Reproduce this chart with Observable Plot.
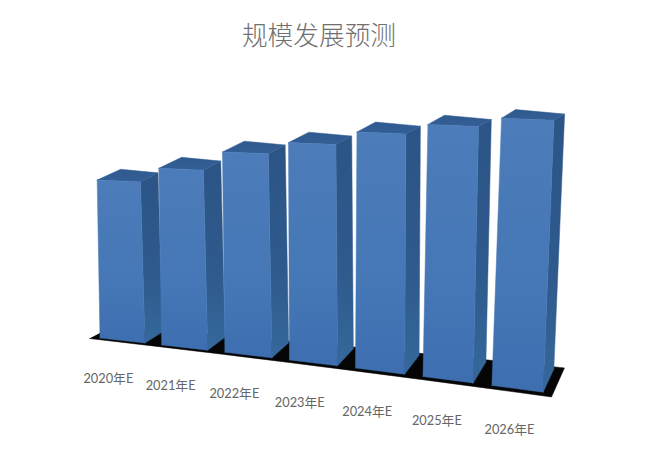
<!DOCTYPE html>
<html lang="zh">
<head>
<meta charset="utf-8">
<script src="https://cdn.jsdelivr.net/npm/d3@7"></script>
<script src="https://cdn.jsdelivr.net/npm/@observablehq/plot@0.6"></script>
<style>
html,body{margin:0;padding:0;background:#fff;width:652px;height:459px;overflow:hidden}
#title{height:56px;text-align:center;font:300 25.7px/67px "Noto Sans CJK SC",sans-serif;color:#707070;padding-right:14px;box-sizing:border-box}
svg{display:block}
</style>
</head>
<body>
<div id="title"></div>
<div id="chart"></div>
<script>
const chartTitle = "规模发展预测";
const categories = ["2020年E","2021年E","2022年E","2023年E","2024年E","2025年E","2026年E"];
const values = [158, 172, 190, 201, 213, 222, 230];

// Camera of the picture: category position u, depth v, value h -> page position
const barSpan = 0.73;
const baseX = u => 99.5 + 61*u + 0.72*u*u;
const baseY = u => 337.5 + 6.7*u + 0.2*u*u;
const growth = u => 1 + 0.027*u;
const lean = u => -0.018 + 0.0015*u*u - 0.014*(u % 1);
const depthX = u => 17.5 - 0.19*Math.max(u - barSpan, 0)**2;
const depthY = (u,h) => -9.5 - 2*u + (0.005 + 0.01*u)*h;
function project(u, v, h, taper = 0, rise = 0) {
  const H = h*growth(u);
  return {
    x: baseX(u) + lean(u)*H + v*(depthX(u) + taper),
    y: baseY(u) - H + v*(depthY(u,h) - rise)
  };
}

const floorLeft = -0.13, floorRight = 6.87, floorFront = -0.15, floorBack = 1.1;
const floorEdge = v => [floorLeft, ...categories.map((_,i)=>i+1).filter(u=>u<floorRight), floorRight].map(u=>project(u,v,0));
const floorPoly = [...floorEdge(floorFront), ...floorEdge(floorBack).reverse()];

const x = d=>d.x, y = d=>d.y;
const poly = (pts, fill) => Plot.line(pts, {x, y, fill, stroke:fill, strokeWidth:0.5});

const barMarks = values.flatMap((h,i) => {
  const L = i, R = i + barSpan, taper = 6 - 0.7*i, rise = 2;
  return [
    poly([project(R,0,0),project(R,0,h),project(R,1,h),project(R,1,0),project(R,0,0)], "url(#side)"),
    poly([project(L,0,h),project(R,0,h),project(R,1,h),project(L,1,h,taper,rise),project(L,0,h)], "url(#top)"),
    poly([project(L,0,0),project(R,0,0),project(R,0,h),project(L,0,h),project(L,0,0)], "url(#front)")
  ];
});

const labelData = categories.map((c,i)=>{
  const u = i + barSpan/2;
  return {c, x: baseX(u) - 14 + 0.0046*i**4, y: baseY(u) + 38 + 0.6*i};
});

function gradientDefs() {
  const defs = d3.create("svg:defs");
  const add = (id, stops) => {
    const g = defs.append("linearGradient").attr("id",id).attr("x1",0).attr("y1",0).attr("x2",0).attr("y2",1);
    stops.forEach(([o,c])=>g.append("stop").attr("offset",o).attr("stop-color",c));
  };
  add("front",[[0,"#4c7cb9"],[0.6,"#4677b6"],[1,"#3d6eb0"]]);
  add("side",[[0,"#2c5486"],[0.6,"#2f5a8d"],[1,"#35689c"]]);
  add("top",[[0,"#2f5a90"],[1,"#345f96"]]);
  return defs.node();
}

document.getElementById("title").textContent = chartTitle;
const titleHeight = 56, W = 652, Ht = 459;
const plot = Plot.plot({
  width: W, height: Ht - titleHeight,
  margin: 0,
  x: {domain:[0,W], range:[0,W], axis:null},
  y: {domain:[titleHeight,Ht], range:[0,Ht-titleHeight], axis:null},
  style: {background:"#fff"},
  marks: [
    gradientDefs,
    poly(floorPoly, "#050505"),
    ...barMarks,
    Plot.text(labelData, {x, y, text:"c", fill:"#666666", fontSize:12.8, fontFamily:'Lato,"Noto Sans CJK SC",sans-serif'})
  ]
});
document.getElementById("chart").appendChild(plot);
</script>
</body>
</html>
